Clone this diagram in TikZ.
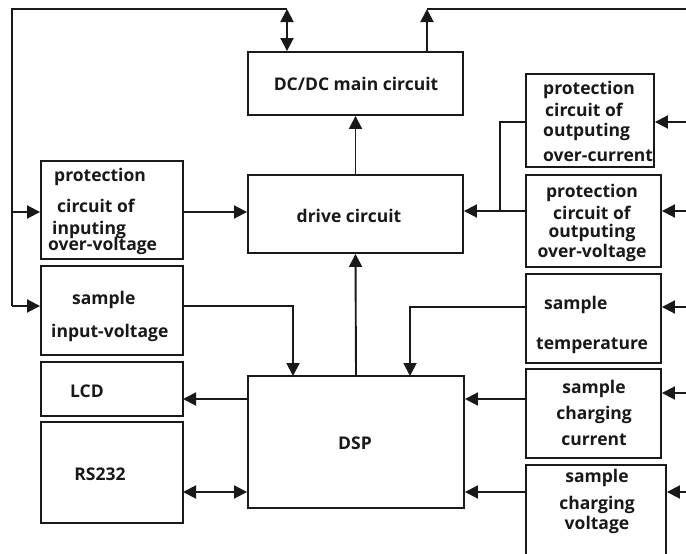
\documentclass[tikz,border=0pt]{standalone}
\usepackage{fontspec}
\setmainfont{Open Sans}
\usetikzlibrary{arrows.meta,calc}
\begin{document}
\begin{tikzpicture}[x=1pt,y=-1pt,
  box/.style={draw=black!90, line width=1.9pt, inner sep=0pt, rectangle},
  ln/.style={line width=1.9pt, draw=black!90},
  arr/.style={ln, -{Triangle[length=13pt,width=13pt]}},
  dbl/.style={ln, {Triangle[length=13pt,width=13pt]}-{Triangle[length=13pt,width=13pt]}},
  txt/.style={font=\fontsize{17.5}{20}\selectfont\bfseries, inner sep=0pt, text=black!90}]
\useasboundingbox (0,0) rectangle (686,554);

% boxes
\node[box, minimum width=215pt, minimum height=63pt] (dc) at (355.5,83.5) {};
\node[box, minimum width=215pt, minimum height=78pt] (drive) at (355.5,214) {};
\node[box, minimum width=216pt, minimum height=132pt] (dsp) at (356,442) {};
\node[box, minimum width=142pt, minimum height=98pt] (pin) at (112,210) {};
\node[box, minimum width=142pt, minimum height=89pt] (sin) at (112,310.5) {};
\node[box, minimum width=142pt, minimum height=54pt] (lcd) at (112,389) {};
\node[box, minimum width=142pt, minimum height=101pt] (rs) at (112,472.5) {};
\node[box, minimum width=128pt, minimum height=93pt] (poc) at (590,120.5) {};
\node[box, minimum width=135pt, minimum height=92pt] (pov) at (593.5,221) {};
\node[box, minimum width=135pt, minimum height=89pt] (stemp) at (593.5,318.5) {};
\node[box, minimum width=135pt, minimum height=89pt] (scc) at (593.5,413.5) {};
\node[box, minimum width=140pt, minimum height=92pt] (scv) at (596,511) {};

% texts
\node[txt] (dct) at (356,84) {DC/DC main circuit};
\node[txt] (drivet) at (349,216) {drive circuit};
\node[txt] (dspt) at (355,443) {DSP};
\node[txt] (lcdt) at (87,391) {LCD};
\node[txt] (rst) at (100,474) {RS232};
\node[txt, align=left, anchor=west] (pint) at (48,211.5)
  {\hspace{6pt}protection\\[11pt]\hspace{9pt}circuit of\\[2pt]\hspace{4pt}inputing\\[-4pt]over-voltage};
\node[txt, align=left, anchor=west] (sint) at (51,316.5)
  {\hspace{21pt}sample\\[13pt]input-voltage};
\node[txt, align=left, anchor=west] (poct) at (543,121.5)
  {protection\\[2pt]\hspace{2pt}circuit of\\outputing\\[5pt]over-current};
\node[txt, align=center] (povt) at (592,223)
  {protection\\[2pt]circuit of\\[-2pt]outputing\\over-voltage};
\node[txt, align=left, anchor=west] (stempt) at (536,325)
  {\hspace{8pt}sample\\[20pt]temperature};
\node[txt, align=center] (scct) at (594,413)
  {sample\\[6pt]charging\\[6pt]current};
\node[txt, align=center] (scvt) at (597,501.5)
  {sample\\[7pt]charging\\voltage};

% coordinates
\coordinate (tL) at (12,9);
\coordinate (tA) at (287,9);
\coordinate (tB) at (427,9);
\coordinate (tR) at (686,9);
\coordinate (pinIn) at (12,212);
\coordinate (sinIn) at (12,306);
\coordinate (lcdP) at (183,399);
\coordinate (rsP) at (183,492);
\coordinate (jov) at (500,211);
\coordinate (sinOut) at (293,376);
\coordinate (tempOut) at (410,376);
\coordinate (yTemp) at (686,307);
\coordinate (yScc) at (686,399);
\coordinate (yScv) at (686,492);
\coordinate (rPoc) at (686,122);
\coordinate (rPov) at (686,211);
\coordinate (rTemp) at (686,307);
\coordinate (rScc) at (686,393);
\coordinate (rScv) at (686,492);

% top connections
\draw[dbl] (tA) -- (tA |- dc.north);
\draw[ln] (tA) -- (tL) -- (sinIn);
\draw[arr] (tB |- dc.north) -- (tB);
\draw[ln] (tB) -- (tR);
\draw[arr] (drive.north) -- (dc.south);

% left side
\draw[arr] (pinIn) -- (pinIn -| pin.west);
\draw[arr] (sinIn) -- (sinIn -| sin.west);
\draw[arr] (pin.east |- pinIn) -- (pinIn -| drive.west);
\draw[arr] (sinIn -| sin.east) -| (sinOut);
\draw[arr] (dsp.north) -- (drive.south);
\draw[arr] (lcdP -| dsp.west) -- (lcdP);
\draw[dbl] (rsP) -- (rsP -| dsp.west);

% right side
\draw[arr] (rPoc) -- (rPoc -| poc.east);
\draw[arr] (rPov) -- (rPov -| pov.east);
\draw[arr] (rTemp) -- (rTemp -| stemp.east);
\draw[arr] (rScc) -- (rScc -| scc.east);
\draw[arr] (rScv) -- (rScv -| scv.east);
\draw[ln] (poc.west |- rPoc) -| (jov);
\draw[arr] (jov -| pov.west) -- (jov -| drive.east);
\draw[arr] (yTemp -| stemp.west) -| (tempOut);
\draw[arr] (yScc -| scc.west) -- (yScc -| dsp.east);
\draw[arr] (yScv -| scv.west) -- (yScv -| dsp.east);
\end{tikzpicture}
\end{document}
